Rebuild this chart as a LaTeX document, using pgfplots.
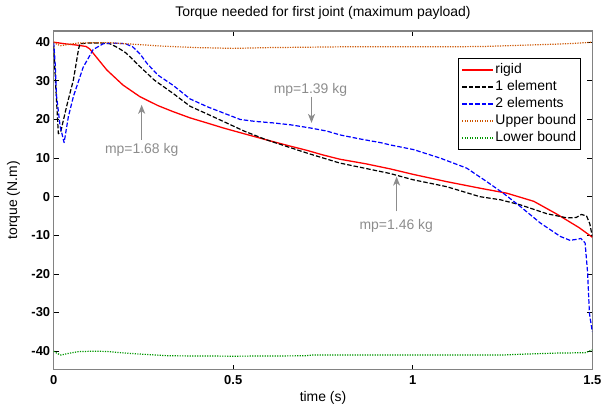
\documentclass[border=0pt]{standalone}
\usepackage{fontspec}
\setmainfont{Liberation Sans}
\usepackage{pgfplots}
\pgfplotsset{compat=1.18}
\usetikzlibrary{arrows.meta}
\definecolor{ubound}{RGB}{204,85,0}
\definecolor{lbound}{RGB}{0,150,0}
\definecolor{annot}{RGB}{140,140,140}
\definecolor{axgray}{RGB}{130,130,130}
\begin{document}
\begin{tikzpicture}
\begin{axis}[
  width=538.6bp, height=338.7bp, scale only axis,
  xmin=0, xmax=1.5, ymin=-44.8, ymax=42.9,
  xtick={0,0.5,1,1.5}, xticklabels={0,0.5,1,1.5},
  ytick={-40,-30,-20,-10,0,10,20,30,40},
  tick align=inside, major tick length=5bp,
  axis line style={draw=axgray, line width=1.4bp},
  every tick/.style={black, line width=0.7bp},
  tick label style={font=\fontsize{13}{15}\selectfont\bfseries},
  /pgf/number format/assume math mode=true,
  xticklabel style={anchor=base, yshift=-14.6bp},
  title={Torque needed for first joint (maximum payload)},
  title style={at={(axis description cs:0.5,1)}, anchor=base, yshift=9bp, font=\fontsize{14}{16}\selectfont},
  xlabel={time (s)},
  xlabel style={at={(axis description cs:0.5,0)}, anchor=base, yshift=-31.5bp, font=\fontsize{14}{16}\selectfont},
  ylabel={torque (N.m)},
  ylabel style={at={(axis description cs:-0.068,0.5)}, anchor=base, font=\fontsize{14}{16}\selectfont},
  legend style={at={(axis description cs:0.979,0.919)}, anchor=north east,
    draw=black, line width=0.8bp, fill=white, font=\fontsize{14}{16}\selectfont,
    inner xsep=3bp, inner ysep=3bp, row sep=0.5bp,
    nodes={inner sep=1.5bp, text height=10bp, text depth=3.5bp}},
  legend cell align=left,
  legend image code/.code={\draw[#1] (0bp,0bp) -- (31bp,0bp);},
]
\addplot[red, line width=1.3bp, line join=round] coordinates {
(0,40) (0.03,39.6) (0.06,39.3) (0.09,38.9) (0.1,38.3) (0.12,36) (0.148,32.8)
(0.193,28.9) (0.24,25.9) (0.29,23.6) (0.333,22) (0.38,20.4) (0.43,19) (0.472,17.8)
(0.53,16.3) (0.593,14.7) (0.65,13.3) (0.705,12.0) (0.75,10.8) (0.797,9.7) (0.87,8.5)
(0.937,7.2) (1.0,5.8) (1.094,3.9) (1.187,2.2) (1.262,0.9) (1.337,-1.2) (1.401,-4.5)
(1.463,-8.0) (1.5,-10.5)};
\addlegendentry{rigid}
\addplot[black, line width=1.2bp, dash pattern=on 4.5bp off 2bp, line join=round] coordinates {
(0,39) (0.006,28) (0.013,16.3) (0.02,17) (0.036,23.4) (0.055,30.3) (0.069,38.1)
(0.073,39.6) (0.1,39.8) (0.13,39.8) (0.157,39.6) (0.18,38.5) (0.2,37.3) (0.212,36.3)
(0.24,33.7) (0.28,30.2) (0.333,26.7) (0.38,23.4) (0.43,21.3) (0.472,19.5) (0.53,17)
(0.593,14.7) (0.705,11.3) (0.797,8.7) (0.937,6.0) (1.0,4.4) (1.094,2.6) (1.187,0)
(1.244,-0.8) (1.299,-2.1) (1.373,-4.4) (1.43,-5.5) (1.455,-5.4) (1.47,-4.6)
(1.484,-5.0) (1.493,-7.0) (1.5,-10.3)};
\addlegendentry{1 element}
\addplot[blue, line width=1.2bp, dash pattern=on 4.5bp off 2bp, line join=round] coordinates {
(0,40) (0.004,34.6) (0.008,26) (0.018,18.2) (0.029,14.0) (0.041,20.8) (0.055,26)
(0.082,33.5) (0.11,38.1) (0.138,39.6) (0.16,39.8) (0.2,39.6) (0.22,38.8) (0.24,37)
(0.26,34.5) (0.29,31.5) (0.333,28.8) (0.38,25.3) (0.43,23.2) (0.472,21.7) (0.519,20)
(0.56,19.5) (0.612,19.1) (0.66,18.6) (0.714,17.8) (0.76,17) (0.797,16) (0.85,15)
(0.91,14) (0.937,13.4) (1.002,12.2) (1.076,10.0) (1.15,7.4) (1.206,3.9) (1.252,0.9)
(1.299,-2.5) (1.355,-6.8) (1.411,-10.3) (1.438,-11.3) (1.46,-11.0) (1.468,-10.8)
(1.48,-12) (1.487,-19.8) (1.492,-30.2) (1.5,-35)};
\addlegendentry{2 elements}
\addplot[ubound, line width=1.2bp, dash pattern=on 1.2bp off 1.3bp] coordinates {
(0,40) (0.01,39.4) (0.02,39.1) (0.04,39.4) (0.07,39.8) (0.15,39.9) (0.2,39.6)
(0.3,39) (0.4,38.6) (0.5,38.4) (0.6,38.6) (0.7,38.7) (0.8,38.8) (0.9,38.8) (1.0,38.8)
(1.1,38.8) (1.2,38.9) (1.3,39.2) (1.4,39.5) (1.45,39.7) (1.5,40)};
\addlegendentry{Upper bound}
\addplot[lbound, line width=1.2bp, dash pattern=on 1.2bp off 1.3bp] coordinates {
(0,-40) (0.01,-40.6) (0.02,-41) (0.04,-40.6) (0.07,-40.1) (0.12,-40) (0.15,-40.1)
(0.2,-40.5) (0.25,-40.8) (0.32,-41.2) (0.5,-41.3) (0.7,-41.2) (0.72,-41) (1.0,-41)
(1.25,-41) (1.3,-40.8) (1.4,-40.5) (1.48,-40.4) (1.5,-39.7)};
\addlegendentry{Lower bound}
\draw[annot, line width=1.2bp, -{Stealth[length=9bp,width=7bp,inset=2.5bp]}] (axis cs:0.245,14.7) -- (axis cs:0.245,23.8);
\node[annot, anchor=base, font=\fontsize{14}{16}\selectfont] at (axis cs:0.245,11.3) {mp=1.68 kg};
\draw[annot, line width=1.2bp, -{Stealth[length=9bp,width=7bp,inset=2.5bp]}] (axis cs:0.718,25.9) -- (axis cs:0.718,19.1);
\node[annot, anchor=base, font=\fontsize{14}{16}\selectfont] at (axis cs:0.715,26.8) {mp=1.39 kg};
\draw[annot, line width=1.2bp, -{Stealth[length=9bp,width=7bp,inset=2.5bp]}] (axis cs:0.955,-3.8) -- (axis cs:0.955,5.2);
\node[annot, anchor=base, font=\fontsize{14}{16}\selectfont] at (axis cs:0.954,-8.6) {mp=1.46 kg};
\end{axis}
\pgfresetboundingbox
\path (-53.7bp,-35.3bp) rectangle (549.3bp,369.7bp);
\end{tikzpicture}
\end{document}
